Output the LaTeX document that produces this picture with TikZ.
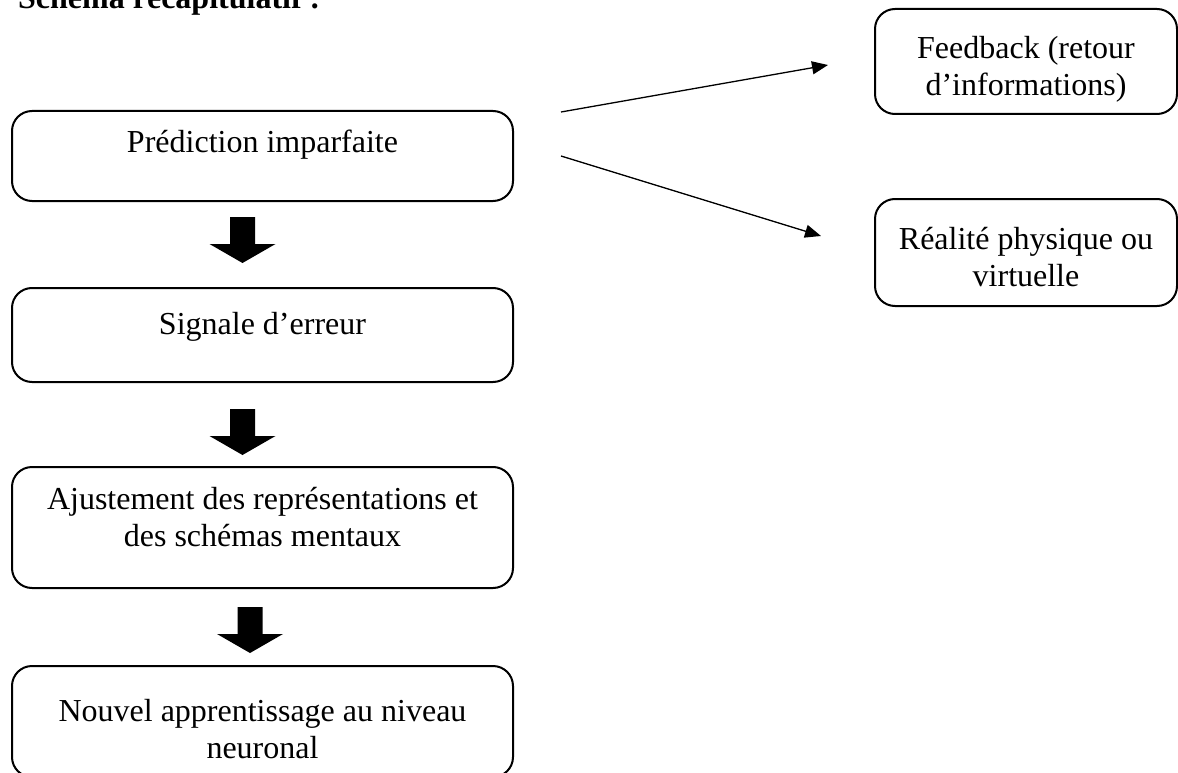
\documentclass[tikz,border=0pt]{standalone}
\usepackage{fontspec}
\setmainfont{Liberation Serif}
\usetikzlibrary{arrows.meta}

% grosse fleche pleine, (#1) = haut du corps
\newcommand{\grossefleche}[1]{\fill (#1) ++(-12.5,0) -- ++(0,27) -- ++(-20.5,0) -- ++(33,19) -- ++(33,-19) -- ++(-20.5,0) -- ++(0,-27) -- cycle;}

\begin{document}
\begin{tikzpicture}[x=1pt, y=-1pt,
    every node/.style={font=\fontsize{32}{37}\selectfont},
    box/.style={draw, line width=2pt, rounded corners=20pt, anchor=north, align=center, inner ysep=0pt, minimum height=0pt},
    leftbox/.style={box, minimum width=501pt},
    rightbox/.style={box, minimum width=302pt},
    thinarrow/.style={line width=1.3pt, -{Triangle[width=13pt, length=16pt]}}]
    \useasboundingbox (0,0) rectangle (1178,773);
    \clip (0,0) rectangle (1178,773);
    \node[anchor=base west, inner sep=0pt, font=\fontsize{32}{37}\selectfont\bfseries] (titre) at (18,9) {Schéma récapitulatif :};
    % colonne de gauche
    \node[leftbox, text height=42pt, text depth=48pt] (pred) at (262.5,110) {Prédiction imparfaite};
    \node[leftbox, text height=46pt, text depth=48pt] (erreur) at (262.5,287) {Signale d’erreur};
    \node[leftbox, text height=79pt, text depth=42pt] (ajust) at (262.5,466) {Ajustement des représentations et\\des schémas mentaux};
    \node[leftbox, text height=92pt, text depth=19pt] (nouvel) at (262.5,665) {Nouvel apprentissage au niveau\\neuronal};
    % colonne de droite
    \node[rightbox, text height=87pt, text depth=18pt] (feed) at (1026,8) {Feedback (retour\\d’informations)};
    \node[rightbox, text height=87pt, text depth=20pt] (real) at (1026,198) {Réalité physique ou\\virtuelle};
    % fleches
    \grossefleche{[xshift=-20pt, yshift=-15pt]pred.south}
    \grossefleche{[xshift=-20pt, yshift=-26pt]erreur.south}
    \grossefleche{[xshift=-12.5pt, yshift=-18pt]ajust.south}
    \draw[thinarrow] ([xshift=47pt, yshift=44pt]pred.east) -- ([xshift=-46pt, yshift=-3.5pt]feed.west);
    \draw[thinarrow] ([xshift=47pt]pred.east) -- ([xshift=-53pt, yshift=16.5pt]real.west);
\end{tikzpicture}
\end{document}
